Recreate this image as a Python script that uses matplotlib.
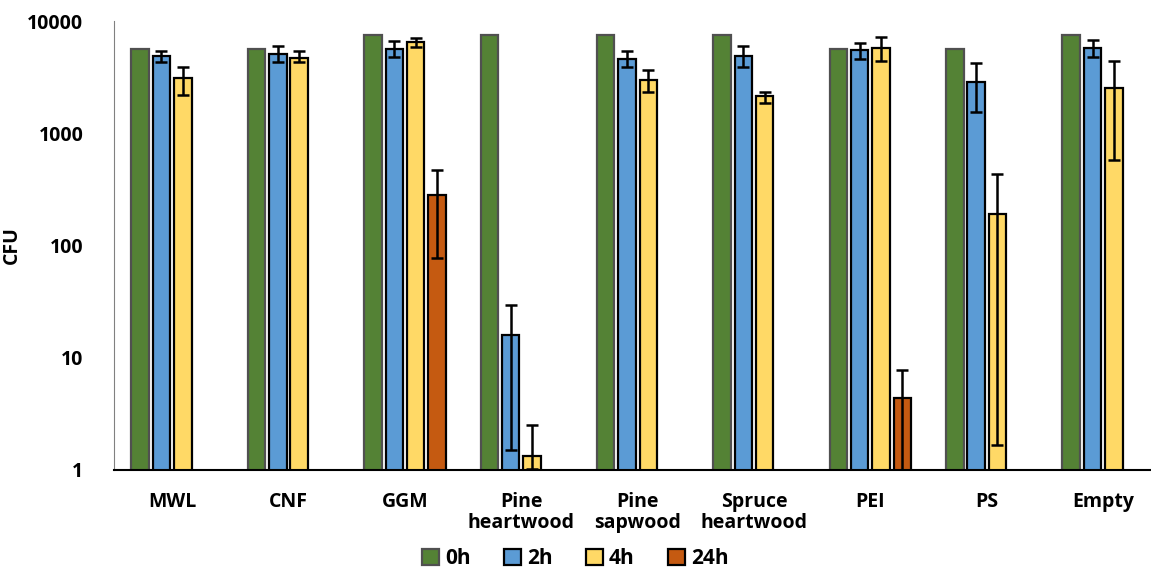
import numpy as np
import matplotlib.pyplot as plt

plt.rcParams['font.family'] = ['Open Sans', 'DejaVu Sans']

categories = ['MWL', 'CNF', 'GGM', 'Pine\nheartwood', 'Pine\nsapwood',
              'Spruce\nheartwood', 'PEI', 'PS', 'Empty']
series = ['0h', '2h', '4h', '24h']

# values (NaN = no bar)
v0 = [5640, 5640, 7510, 7510, 7510, 7510, 5640, 5640, 7510]
v2 = [4890, 5090, 5640, 15.8, 4590, 4890, 5520, 2870, 5750]
v4 = [3115, 4690, 6500, 1.33, 2990, 2155, 5750, 192, 2540]
v24 = [np.nan, np.nan, 284, np.nan, np.nan, np.nan, 4.37, np.nan, np.nan]

# error bar ends (upper / lower)
up2 = [5410, 5980, 6640, 29.3, 5410, 5980, 6370, 4240, 6780]
lo2 = [4320, 4320, 4790, 1.5, 3900, 3900, 4590, 1553, 4790]
up4 = [3900, 5410, 7070, 2.5, 3670, 2340, 7210, 436, 4410]
lo4 = [2198, 4320, 5870, 1.02, 2340, 1866, 4410, 1.67, 581]
up24 = [np.nan, np.nan, 474, np.nan, np.nan, np.nan, 7.74, np.nan, np.nan]
lo24 = [np.nan, np.nan, 78, np.nan, np.nan, np.nan, 1.0, np.nan, np.nan]

colors = ['#548235', '#5B9BD5', '#FFD966', '#C55A11']
edges = ['#505050', 'black', 'black', 'black']

fig = plt.figure(figsize=(11.51, 5.73), dpi=100)
ax = fig.add_axes([0.099, 0.18, 0.91, 0.783])

x = np.arange(len(categories))
slot = 0.183
width = 0.15
vals = [v0, v2, v4, v24]
ups = [None, up2, up4, up24]
los = [None, lo2, lo4, lo24]

for i, (s, v) in enumerate(zip(series, vals)):
    v = np.array(v, dtype=float)
    pos = x + (i - 1.5) * slot
    ax.bar(pos, v, width=width, color=colors[i], edgecolor=edges[i],
           linewidth=1.6, label=s, zorder=2)
    if ups[i] is not None:
        u = np.array(ups[i], dtype=float)
        l = np.array(los[i], dtype=float)
        yerr = np.vstack([v - l, u - v])
        ax.errorbar(pos, v, yerr=yerr, fmt='none', ecolor='black',
                    elinewidth=1.8, capsize=4.5, capthick=1.8, zorder=3)

ax.set_yscale('log')
ax.set_ylim(1, 10000)
ax.set_xlim(-0.5, 8.5)
ax.set_yticks([1, 10, 100, 1000, 10000])
ax.set_yticklabels(['1', '10', '100', '1000', '10000'])
ax.minorticks_off()
ax.tick_params(axis='y', length=0, pad=22, labelsize=14)
ax.tick_params(axis='x', length=0, pad=16, labelsize=14)
ax.set_xticks(x)
ax.set_xticklabels(categories, linespacing=1.05)
for lab in ax.get_xticklabels() + ax.get_yticklabels():
    lab.set_fontweight('bold')

ax.spines['top'].set_visible(False)
ax.spines['right'].set_visible(False)
ax.spines['left'].set_color('#808080')
ax.spines['bottom'].set_color('black')
ax.spines['bottom'].set_linewidth(1.5)

ax.set_ylabel('CFU', fontsize=14, fontweight='bold')
ax.yaxis.set_label_coords(-0.088, 0.5)

leg = fig.legend(loc='lower center', bbox_to_anchor=(0.5, -0.026), ncol=4,
                 frameon=False, prop={'weight': 'bold', 'size': 15},
                 handlelength=0.8, handleheight=0.8, handletextpad=0.3,
                 columnspacing=1.6)

fig.savefig('out.png', dpi=100)
